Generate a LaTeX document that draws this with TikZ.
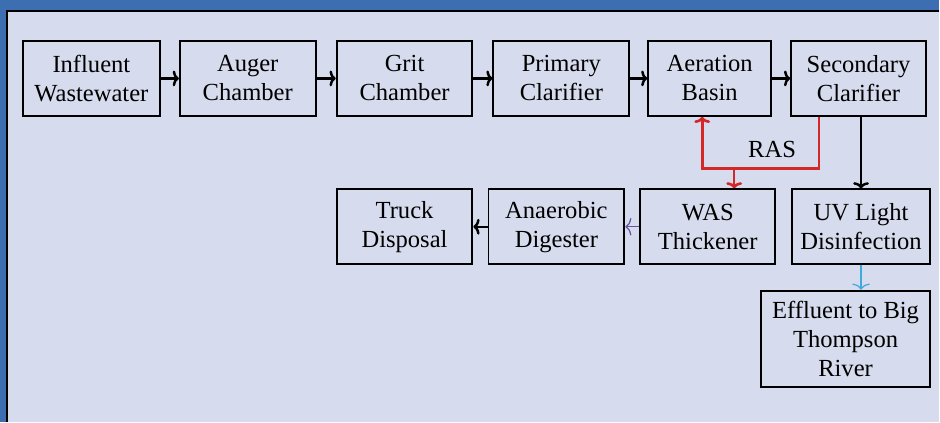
\documentclass[tikz,border=0pt]{standalone}
\usepackage{fontspec}
\setmainfont{Liberation Serif}
\usetikzlibrary{arrows.meta}

\definecolor{frameblue}{RGB}{62,110,178}
\definecolor{paper}{RGB}{214,220,237}
\definecolor{rasred}{RGB}{212,40,40}
\definecolor{waspurple}{RGB}{100,82,160}
\definecolor{uvcyan}{RGB}{62,170,220}

\begin{document}
\begin{tikzpicture}[
    x = 0.02cm,
    y = -0.02cm,
    line width = 1.1pt,
    >={To[length=3.5pt, width=9pt]},
    box/.style = {
      draw,
      rectangle,
      align = center,
      inner sep = 0pt,
      minimum height = 1.5cm,
      font = \fontsize{14}{16.5}\selectfont
    },
    flow/.style = {
      line width = 1.4pt,
      ->
    },
    ras/.style = {
      draw = rasred,
      line width = 1.5pt
    },
    thinarrow/.style = {
      line width = 0.7pt,
      -{To[length=3.5pt, width=10pt]}
    }
  ]
  \fill[frameblue] (0,0) rectangle (940,422);
  \fill[paper] (7,11) rectangle (940,422);
  \draw[line width = 1.2pt] (7,422) -- (7,11) -- (940,11);

  \node[box, minimum width = 2.74cm] (infl)  at (91.5,78.5)  {Influent\\Wastewater};
  \node[box, minimum width = 2.72cm] (auger) at (248,78.5)   {Auger\\Chamber};
  \node[box, minimum width = 2.72cm] (grit)  at (405,78.5)   {Grit\\Chamber};
  \node[box, minimum width = 2.72cm] (prim)  at (562,78.5)   {Primary\\Clarifier};
  \node[box, minimum width = 2.46cm] (aer)   at (710.5,78.5) {Aeration\\Basin};
  \node[box, minimum width = 2.70cm] (sec)   at (859.5,78.5) {Secondary\\Clarifier};

  \node[box, minimum width = 2.72cm] (truck) at (405,227)    {Truck\\Disposal};
  \node[box, minimum width = 2.72cm] (dig)   at (557,227)    {Anaerobic\\Digester};
  \node[box, minimum width = 2.70cm] (was)   at (708.5,227)  {WAS\\Thickener};
  \node[box, minimum width = 2.76cm] (uv)    at (862,227)    {UV Light\\Disinfection};

  \node[box, minimum width = 3.38cm, minimum height = 1.92cm] (eff) at (846.5,339)
    {Effluent to Big\\Thompson\\River};

  \draw[flow] (infl) -- (auger);
  \draw[flow] (auger) -- (grit);
  \draw[flow] (grit) -- (prim);
  \draw[flow] (prim) -- (aer);
  \draw[flow] (aer) -- (sec);

  % return / waste activated sludge
  \coordinate (rasR) at (820,169);
  \coordinate (rasL) at (703,169);
  \coordinate (rasW) at (735,169);
  \draw[ras, ->] (sec.south -| rasR) -- (rasR) -- (rasL) -- (aer.south -| rasL);
  \draw[ras, ->] (rasW) -- (was.north -| rasW);
  \node[font = \fontsize{14}{16.5}\selectfont] (raslbl) at (773,150) {RAS};

  \draw[flow] (sec.south -| uv.north) -- (uv.north);
  \draw[thinarrow, waspurple] (was) -- (dig);
  \draw[flow] (dig) -- (truck);
  \draw[thinarrow, uvcyan] (uv.south) -- (uv.south |- eff.north);
\end{tikzpicture}
\end{document}
